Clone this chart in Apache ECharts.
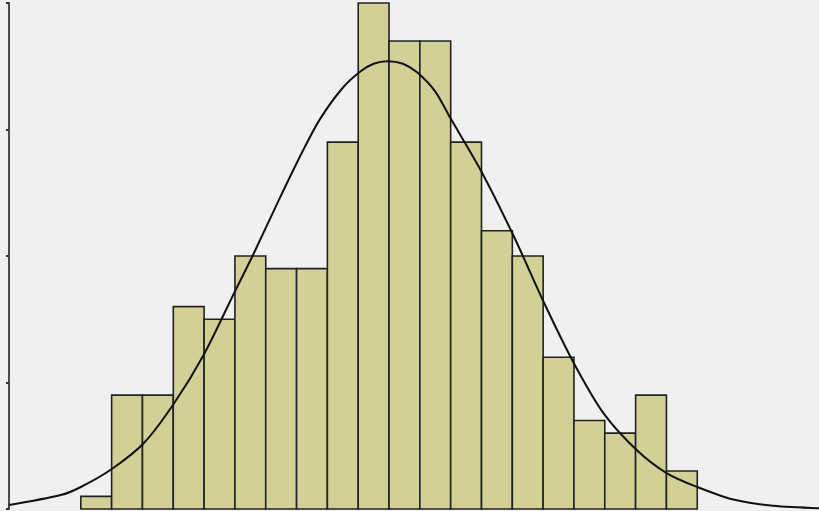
<!DOCTYPE html>
<html>
<head>
<meta charset="utf-8">
<title>histogram</title>
<script src="https://cdn.jsdelivr.net/npm/echarts@6/dist/echarts.min.js"></script>
<style>
html,body{margin:0;padding:0;background:#f0f0f0;}
#main{width:819px;height:511px;}
</style>
</head>
<body>
<div id="main"></div>
<script>
// bin counts, bins are 1 unit wide starting at 0
var counts = [1, 9, 9, 16, 15, 20, 19, 19, 29, 40, 37, 37, 29, 22, 20, 12, 7, 6, 9, 3];
// fitted curve (x in bin units, y in counts)
var curveX = [-2.33, -0.65, 0, 0.97, 2.04, 3.01, 3.99, 4.96, 5.61, 6.42, 7.2, 7.78, 8.5, 9.08, 9.5, 9.95, 10.45, 10.92, 11.5, 11.99, 12.97, 14.04, 15.01, 15.98, 16.95, 18.06, 19.03, 20.0, 21.17, 22.46, 23.95];
var curveY = [0.32, 1.1, 1.74, 3.1, 5.2, 8.3, 12.2, 17.0, 20.2, 24.4, 28.3, 30.9, 33.3, 34.6, 35.2, 35.4, 35.2, 34.5, 33.0, 30.9, 26.8, 21.6, 16.4, 11.6, 7.6, 4.6, 2.8, 1.74, 0.75, 0.25, 0.06];
var yTicks = [0, 10, 20, 30, 40];

var myChart = echarts.init(document.getElementById('main'));

var barData = [];
for (var i = 0; i < counts.length; i++) {
    barData.push([i, i + 1, counts[i]]);
}
var lineData = [];
for (var j = 0; j < curveX.length; j++) {
    lineData.push([curveX[j], curveY[j]]);
}

option = {
    backgroundColor: '#f0f0f0',
    animation: false,
    grid: {left: 9, right: 0, top: 3, bottom: 2},
    xAxis: {
        type: 'value',
        min: -2.33,
        max: 23.95,
        show: false
    },
    yAxis: {
        type: 'value',
        min: yTicks[0],
        max: yTicks[yTicks.length - 1],
        interval: 10,
        axisLine: {show: true, onZero: false, lineStyle: {color: '#4a4a4a', width: 2}},
        axisTick: {show: true, length: 3, lineStyle: {color: '#333', width: 2}},
        axisLabel: {show: false},
        splitLine: {show: false}
    },
    series: [{
        type: 'custom',
        data: barData,
        renderItem: function (params, api) {
            var p0 = api.coord([api.value(0), 0]);
            var p1 = api.coord([api.value(1), api.value(2)]);
            return {
                type: 'rect',
                shape: {x: p0[0], y: p1[1], width: p1[0] - p0[0], height: p0[1] - p1[1]},
                style: {fill: '#d2cf97', stroke: '#222', lineWidth: 1.6}
            };
        }
    }, {
        type: 'line',
        data: lineData,
        smooth: 0.3,
        symbol: 'none',
        lineStyle: {color: '#111', width: 2},
        z: 5
    }]
};
myChart.setOption(option);
</script>
</body>
</html>
